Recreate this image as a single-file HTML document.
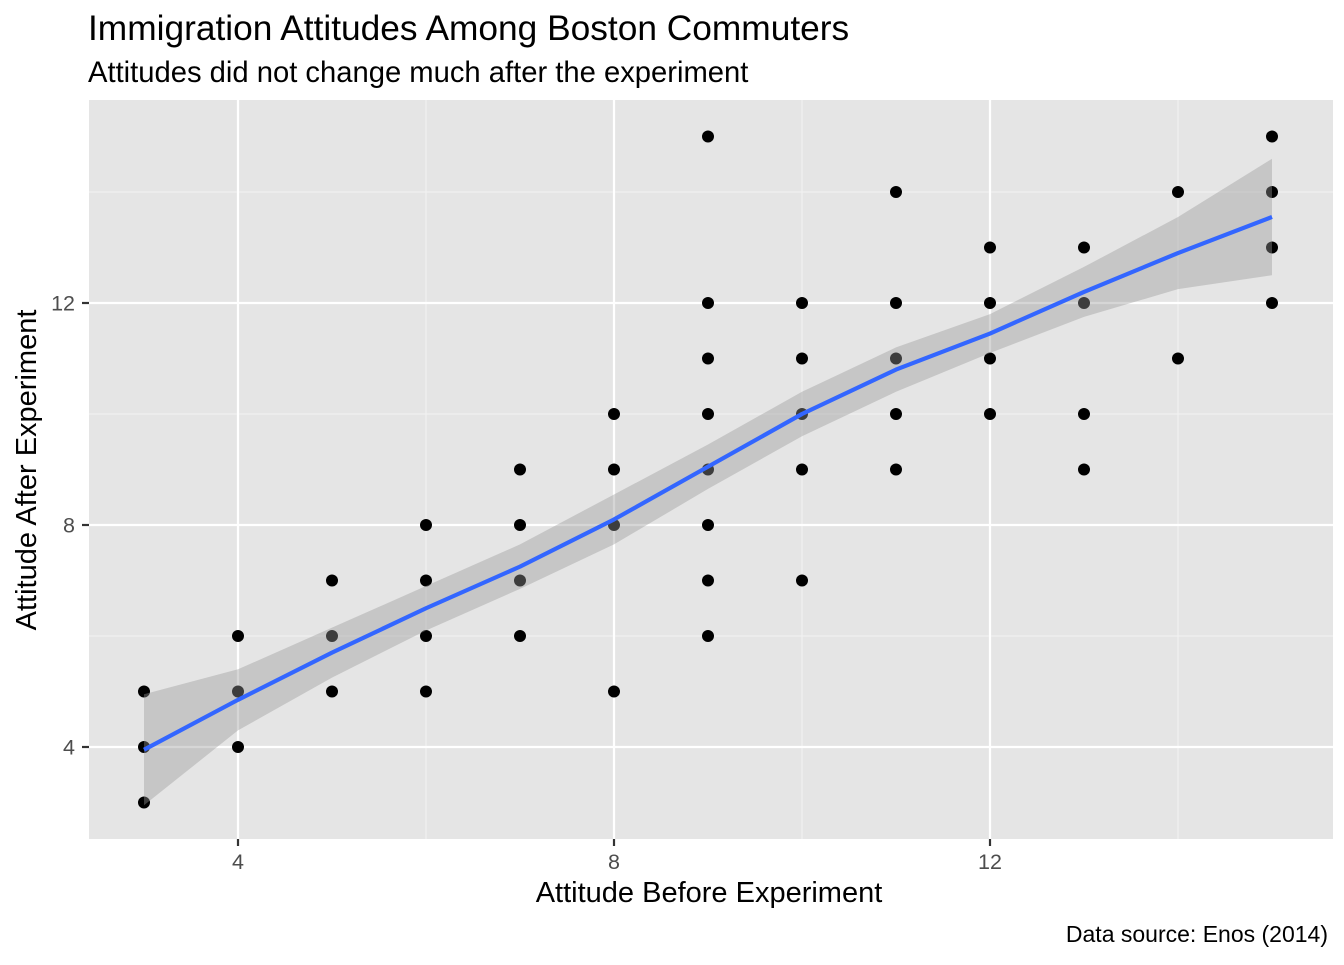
<!DOCTYPE html>
<html><head><meta charset="utf-8"><style>
body{margin:0;background:#fff}
svg text{font-family:"Liberation Sans",Arial,sans-serif}
</style></head><body>
<svg id="chart" width="1344" height="960" xmlns="http://www.w3.org/2000/svg">
<text x="88" y="40" font-size="35.3" fill="#000">Immigration Attitudes Among Boston Commuters</text>
<text x="88" y="82" font-size="29.2" fill="#000">Attitudes did not change much after the experiment</text>
<rect x="89" y="100" width="1244" height="739" fill="#e5e5e5"/>
<g id="grid"></g><g id="pts"></g><g id="smooth"></g><g id="axes"></g>
<text x="709" y="902" font-size="29" text-anchor="middle">Attitude Before Experiment</text>
<text transform="translate(36,470) rotate(-90)" font-size="29" text-anchor="middle">Attitude After Experiment</text>
<text x="1328" y="942" font-size="23" text-anchor="end">Data source: Enos (2014)</text>
</svg>
<script>
const xCats=[3,4,5,6,7,8,9,10,11,12,13,14,15];
const yVals=[[5,4,3],[6,5,4],[7,6,5],[8,7,6,5],[9,8,7,6],[10,9,8,5],[15,12,11,10,9,8,7,6],[12,11,10,9,7],[14,12,11,10,9],[13,12,11,10],[13,12,10,9],[14,11],[15,14,13,12]];
const fitX=[3,4,5,6,7,8,9,10,11,12,13,14,15];
const fitY=[3.95,4.85,5.7,6.5,7.25,8.1,9.05,10.0,10.8,11.45,12.2,12.9,13.55];
const fitSE=[1.0,0.55,0.45,0.4,0.4,0.45,0.4,0.4,0.4,0.35,0.45,0.65,1.05];
const xTicks=[4,8,12];
const yTicks=[4,8,12];
const xMinor=[6,10,14];
const yMinor=[6,10,14];
const NS="http://www.w3.org/2000/svg";
const X=v=>238+(v-4)*94;
const Y=v=>747-(v-4)*55.5;
function mk(tag,attrs,parent){const e=document.createElementNS(NS,tag);for(const k in attrs)e.setAttribute(k,attrs[k]);document.getElementById(parent).appendChild(e);return e;}
xMinor.forEach(v=>{const e=mk('line',{x1:X(v),x2:X(v),y1:100,y2:839,stroke:'#f2f2f2','stroke-width':1.1},'grid');

});
yMinor.forEach(v=>{const e=mk('line',{x1:89,x2:1333,y1:Y(v),y2:Y(v),stroke:'#f2f2f2','stroke-width':1.1},'grid');

});
xTicks.forEach(v=>{const e=mk('line',{x1:X(v),x2:X(v),y1:100,y2:839,stroke:'#fff','stroke-width':2.2},'grid');


const t=mk('line',{x1:X(v),x2:X(v),y1:839,y2:846,stroke:'#333','stroke-width':2.2},'axes');


const l=mk('text',{x:X(v),y:869,'font-size':21.5,'text-anchor':'middle',fill:'#4d4d4d'},'axes');l.textContent=v;

});
yTicks.forEach(v=>{const e=mk('line',{x1:89,x2:1333,y1:Y(v),y2:Y(v),stroke:'#fff','stroke-width':2.2},'grid');


const t=mk('line',{x1:82,x2:89,y1:Y(v),y2:Y(v),stroke:'#333','stroke-width':2.2},'axes');


const l=mk('text',{x:75,y:Y(v)+7.5,'font-size':21.5,'text-anchor':'end',fill:'#4d4d4d'},'axes');l.textContent=v;

});
xCats.forEach((x,i)=>yVals[i].forEach(y=>{const c=mk('circle',{cx:X(x),cy:Y(y),r:6,fill:'#000'},'pts');

}));
let up=fitX.map((x,i)=>X(x)+','+Y(fitY[i]+fitSE[i]));
let lo=fitX.map((x,i)=>X(x)+','+Y(fitY[i]-fitSE[i])).reverse();
const band=mk('polygon',{points:up.concat(lo).join(' '),fill:'#999','fill-opacity':0.4},'smooth');


const line=mk('polyline',{points:fitX.map((x,i)=>X(x)+','+Y(fitY[i])).join(' '),fill:'none',stroke:'#3366ff','stroke-width':4.2,'stroke-linejoin':'round'},'smooth');


</script>
</body></html>
